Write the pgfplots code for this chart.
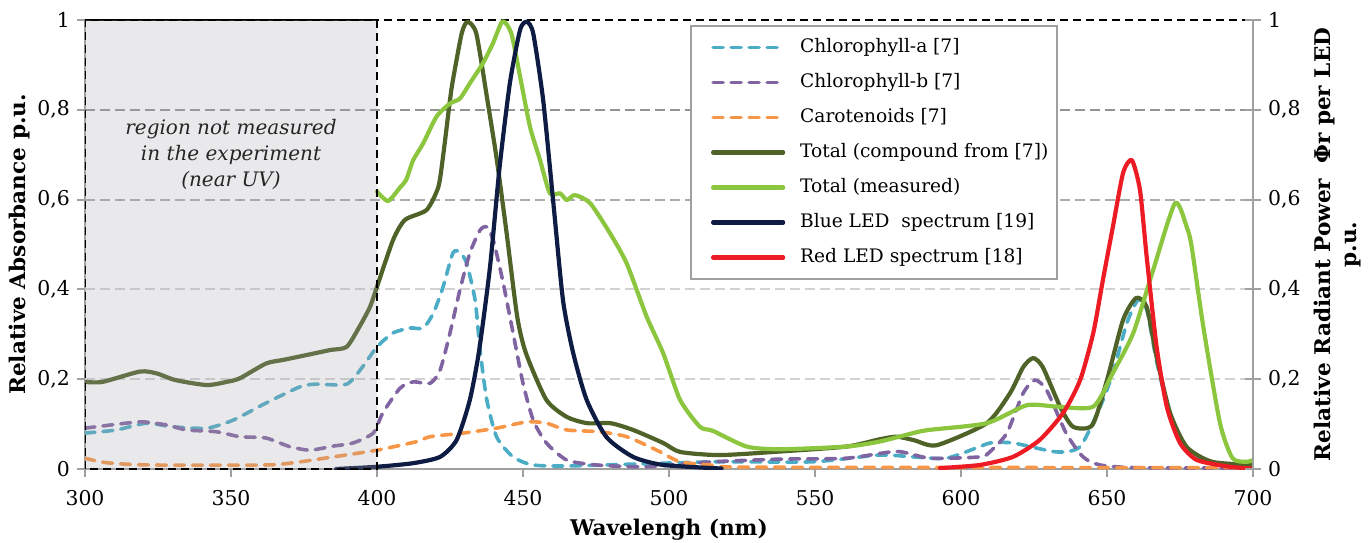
\documentclass[border=0pt]{standalone}
\usepackage{fontspec}
\setmainfont{DejaVu Serif}
\usepackage{pgfplots}
\pgfplotsset{compat=1.18}

\definecolor{chla}{RGB}{75,172,198}
\definecolor{chlb}{RGB}{128,100,162}
\definecolor{carot}{RGB}{247,150,70}
\definecolor{totc}{RGB}{79,98,40}
\definecolor{totm}{RGB}{140,198,63}
\definecolor{blueled}{RGB}{14,28,68}
\definecolor{redled}{RGB}{237,28,36}
\definecolor{axgray}{RGB}{160,160,160}
\definecolor{uvfill}{RGB}{167,164,172}

\pgfplotsset{
  dashline/.style={line width=1.8pt, line cap=round, dash pattern=on 5pt off 4pt, smooth, tension=0.4},
  solidline/.style={line width=2.1pt, line join=round, line cap=round, smooth, tension=0.4},
}

\begin{document}
\begin{tikzpicture}
\path[use as bounding box] (-42.5pt,-36.5pt) rectangle (643pt,234.5pt);

\begin{axis}[
  scale only axis,
  width=584pt, height=224.5pt,
  xmin=300, xmax=700, ymin=0, ymax=1,
  axis x line*=bottom, axis y line*=left,
  axis line style={axgray, line width=1pt, -},
  xtick={300,350,...,700},
  ytick={0,0.2,0.4,0.6,0.8,1},
  tick style={axgray, line width=1pt},
  tick align=outside,
  major tick length=4pt,
  ticklabel style={font=\fontsize{10.2}{12}\selectfont},
  xticklabel style={yshift=-3pt},
  /pgf/number format/use comma,
  /pgf/number format/assume math mode=true,
  xlabel={\textbf{Wavelengh (nm)}},
  ylabel={\textbf{Relative Absorbance p.u.}},
  label style={font=\fontsize{10.8}{13}\selectfont},
  xlabel style={yshift=0pt},
  ylabel style={yshift=-3pt},
  legend style={at={(0.518,0.989)}, anchor=north west, draw=axgray,
    line width=1pt, font=\fontsize{9.3}{12}\selectfont,
    inner xsep=3pt, inner ysep=4pt, row sep=4pt, column sep=6pt,
    nodes={inner sep=1.5pt, text height=8pt, text depth=2.5pt}},
  legend cell align=left,
  legend image code/.code={\path (0pt,0pt); \draw[#1, sharp plot] (7pt,0pt) -- (42pt,0pt);},
]

% grid lines
\draw[gray!35, line width=1pt, dash pattern=on 5pt off 2.5pt] (axis cs:300,0.2) -- (axis cs:700,0.2);
\draw[gray!35, line width=1pt, dash pattern=on 5pt off 2.5pt] (axis cs:300,0.4) -- (axis cs:700,0.4);
\draw[gray!65, line width=1pt, dash pattern=on 5pt off 2.5pt] (axis cs:300,0.6) -- (axis cs:700,0.6);
\draw[gray!85, line width=1pt, dash pattern=on 5pt off 2.5pt] (axis cs:300,0.8) -- (axis cs:700,0.8);
\draw[black, line width=1pt, dash pattern=on 4pt off 2.5pt] (axis cs:300,1) -- (axis cs:700,1);

\addplot[chla, dashline] coordinates {
(300,0.080)(310.8,0.087)(321,0.102)(330,0.094)(341.7,0.091)(350.8,0.109)(362,0.147)
(373.6,0.183)(379,0.189)(389.6,0.189)(395,0.227)(400,0.272)(405.5,0.303)(411.3,0.314)
(415.8,0.314)(419.3,0.347)(422.6,0.405)(426,0.481)(428.4,0.483)(430.7,0.458)(433.6,0.376)
(435.3,0.265)(437.6,0.154)(441,0.071)(446.6,0.027)(453.5,0.009)(467,0.007)(515,0.016)
(549,0.016)(572,0.031)(583.6,0.027)(595,0.024)(606.5,0.05)(610,0.058)(617.8,0.058)
(632.8,0.038)(640.8,0.05)(647.6,0.138)(652,0.214)(656.8,0.325)(660.6,0.376)(663.6,0.355)
(667,0.24)(671.6,0.12)(677,0.045)(686,0.012)(700,0.005)
};
\addlegendentry{Chlorophyll-a [7]}

\addplot[chlb, dashline] coordinates {
(300,0.091)(314,0.102)(320,0.105)(328,0.098)(334.8,0.087)(345,0.083)(353,0.072)(362,0.069)
(370,0.050)(377,0.042)(385,0.051)(391.8,0.058)(398.7,0.080)(402,0.125)(407.9,0.180)
(412.4,0.194)(418.2,0.191)(421.6,0.22)(425,0.303)(428.4,0.399)(431.8,0.481)(435.3,0.532)
(437.6,0.539)(439.8,0.51)(443,0.421)(446.6,0.303)(450,0.191)(453.5,0.109)(458,0.058)
(465,0.02)(475,0.009)(492,0.005)(515,0.016)(538,0.022)(560.8,0.024)(578,0.039)(589.4,0.024)
(606.5,0.027)(610,0.039)(615.7,0.080)(621.3,0.169)(625.3,0.198)(629.3,0.176)(636,0.080)
(641.8,0.027)(647.6,0.009)(660,0.003)(700,0.002)
};
\addlegendentry{Chlorophyll-b [7]}

\addplot[carot, dashline] coordinates {
(300,0.024)(307.4,0.014)(322,0.009)(362,0.009)(373.6,0.016)(385,0.027)(400,0.042)
(413.6,0.061)(418.2,0.072)(429.5,0.080)(441,0.091)(451.3,0.105)(458,0.102)(465,0.087)
(476,0.083)(485.5,0.072)(495.8,0.042)(503.8,0.016)(514,0.009)(530,0.004)(700,0.003)
};
\addlegendentry{Carotenoids [7]}

\addplot[totc, solidline] coordinates {
(300,0.194)(306,0.194)(318.8,0.217)(324.5,0.213)(331,0.198)(341.7,0.187)(348.5,0.194)
(353,0.202)(362,0.235)(367.9,0.243)(376,0.254)(384,0.265)(389.6,0.272)(394,0.317)
(397.6,0.361)(400,0.406)(405.5,0.51)(409.6,0.555)(417,0.577)(421,0.628)(422.6,0.695)
(425,0.822)(426,0.866)(429,0.97)(431,0.996)(434,0.97)(437.6,0.83)(441,0.69)(444.4,0.525)
(448,0.34)(451,0.258)(458,0.154)(465,0.116)(472,0.102)(480,0.102)(487.7,0.087)(498,0.058)
(503.8,0.038)(517.5,0.031)(538,0.039)(560.8,0.050)(572,0.066)(578,0.072)(584,0.064)
(591.7,0.053)(608.8,0.102)(616.8,0.169)(621.3,0.227)(624.7,0.247)(628,0.227)(634,0.138)
(638.4,0.094)(645,0.098)(650,0.198)(655.5,0.332)(660,0.381)(663.6,0.361)(667,0.249)
(671.6,0.125)(677.3,0.049)(686,0.016)(700,0.009)
};
\addlegendentry{Total (compound from [7])}

\addplot[totm, solidline] coordinates {
(400,0.618)(403.8,0.597)(408,0.628)(410,0.644)(412.4,0.688)(415.8,0.725)(420.4,0.785)
(425,0.814)(428.4,0.825)(431.8,0.859)(436.3,0.904)(439.7,0.948)(443,0.997)(446,0.97)
(449,0.874)(452.4,0.762)(455.8,0.689)(459.2,0.614)(462.7,0.614)(465,0.599)(467.8,0.61)
(473,0.592)(479.8,0.525)(485.5,0.458)(492.3,0.34)(498,0.258)(503.8,0.154)(510.6,0.094)
(515,0.085)(526.6,0.05)(538,0.044)(560.8,0.05)(572,0.061)(583.6,0.080)(589,0.087)
(608.8,0.102)(622.5,0.142)(632.8,0.139)(645.3,0.139)(652,0.214)(659,0.303)(665.8,0.443)
(673.3,0.592)(677.3,0.539)(679,0.495)(683,0.316)(688.7,0.102)(693,0.024)(698,0.016)(700,0.02)
};
\addlegendentry{Total (measured)}

\addplot[blueled, solidline] coordinates {
(386,0)(400,0.005)(412.4,0.013)(421.6,0.027)(427.3,0.065)(431.8,0.154)(435,0.265)
(438.7,0.45)(442,0.673)(445.5,0.859)(449,0.978)(451.3,0.996)(453.5,0.97)(456.9,0.822)
(460.3,0.599)(463.7,0.376)(467.2,0.258)(471.8,0.154)(478.6,0.071)(487.7,0.027)(498,0.009)
(518,0.001)
};
\addlegendentry{Blue LED\ \ spectrum [19]}

\addplot[redled, solidline] coordinates {
(592.8,0.002)(606.5,0.009)(617.8,0.027)(627,0.065)(635,0.125)(640.8,0.198)(645.3,0.303)
(648.6,0.421)(652,0.539)(655.5,0.659)(658.5,0.688)(661.3,0.621)(663.6,0.472)(667,0.272)
(670.5,0.138)(675,0.058)(680.8,0.02)(692,0.005)(700,0.001)
};
\addlegendentry{Red LED spectrum [18]}

% region not measured (near UV)
\fill[uvfill, opacity=0.25] (axis cs:300,0) rectangle (axis cs:400,1);
\draw[black, line width=1pt, dash pattern=on 4pt off 2.5pt] (axis cs:300,0) rectangle (axis cs:400,1);
\node[font=\fontsize{10}{13}\selectfont\itshape, align=center, text=black!85]
  at (axis cs:350,0.70) {region not measured\\in the experiment\\(near UV)};
\end{axis}

\begin{axis}[
  scale only axis,
  width=584pt, height=224.5pt,
  xmin=300, xmax=700, ymin=0, ymax=1,
  axis x line=none, axis y line*=right,
  axis line style={axgray, line width=1pt, -},
  ytick={0,0.2,0.4,0.6,0.8,1},
  tick style={axgray, line width=1pt},
  tick align=center,
  major tick length=8pt,
  ticklabel style={font=\fontsize{10.2}{12}\selectfont},
  /pgf/number format/use comma,
  /pgf/number format/assume math mode=true,
  ylabel={\textbf{Relative Radiant Power\ \ Φr per LED}\\\textbf{p.u.}},
  ylabel style={font=\fontsize{10.8}{13}\selectfont, align=center},
]
\end{axis}
\end{tikzpicture}
\end{document}
